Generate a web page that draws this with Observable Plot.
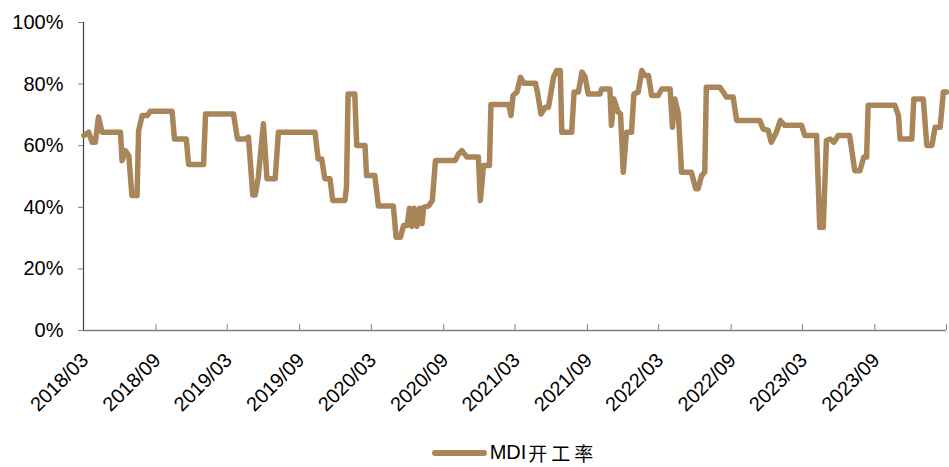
<!DOCTYPE html>
<html>
<head>
<meta charset="utf-8">
<script src="https://cdn.jsdelivr.net/npm/d3@7"></script>
<script src="https://cdn.jsdelivr.net/npm/@observablehq/plot@0.6"></script>
<style>
  html, body { margin: 0; padding: 0; background: #fff; overflow: hidden; }
  #chart svg { display: block; }
  .legend {
    display: flex; align-items: center; justify-content: center;
    height: 27px; line-height: 27px; padding-left: 83px; padding-right: 3px; box-sizing: border-box; width: 949px;
    font-family: "Liberation Sans", Arial, "Noto Sans CJK SC", sans-serif; font-size: 20px; color: #000;
  }
  .legend .swatch { width: 55px; height: 6px; border-radius: 3px; margin-right: 3px; }
  .legend .cjk { font-family: "Noto Sans CJK SC", sans-serif; font-size: 19px; line-height: 27px; letter-spacing: 4px; margin-left: 2px; }
</style>
</head>
<body>
<div id="chart"></div>
<div class="legend"><span class="swatch"></span><span class="label"></span><span class="cjk"></span></div>
<script>
// MDI 开工率 (weekly operating rate, %)
const seriesLatin = "MDI";
const seriesCjk = "开工率";
const dates = [
  "2018-03-02","2018-03-14","2018-03-23","2018-03-31","2018-04-08","2018-04-17","2018-06-03","2018-06-07",
  "2018-06-15","2018-06-24","2018-07-02","2018-07-15","2018-07-19","2018-07-28","2018-08-10","2018-08-18",
  "2018-10-12","2018-10-18","2018-11-17","2018-11-23","2018-12-31","2019-01-05","2019-03-17","2019-03-27",
  "2019-04-16","2019-04-24","2019-05-05","2019-05-11","2019-05-19","2019-06-01","2019-06-10","2019-07-01",
  "2019-07-09","2019-10-10","2019-10-18","2019-10-27","2019-11-04","2019-11-17","2019-11-24","2019-12-25",
  "2019-12-29","2020-01-02","2020-01-19","2020-01-24","2020-02-14","2020-02-18","2020-03-10","2020-03-19",
  "2020-04-26","2020-05-03","2020-05-14","2020-05-22","2020-05-31","2020-06-06","2020-06-12","2020-06-18",
  "2020-06-25","2020-07-02","2020-07-08","2020-07-12","2020-07-25","2020-08-03","2020-08-11","2020-09-30",
  "2020-10-09","2020-10-17","2020-10-30","2020-11-28","2020-12-03","2020-12-11","2020-12-26","2020-12-30",
  "2021-02-13","2021-02-19","2021-02-24","2021-03-06","2021-03-15","2021-03-23","2021-04-22","2021-04-27",
  "2021-05-06","2021-05-17","2021-05-25","2021-06-07","2021-06-15","2021-06-24","2021-06-28","2021-07-23",
  "2021-07-29","2021-08-09","2021-08-18","2021-08-26","2021-09-03","2021-10-03","2021-10-07","2021-10-28",
  "2021-11-01","2021-11-07","2021-11-18","2021-11-24","2021-12-01","2021-12-09","2021-12-22","2021-12-28",
  "2022-01-08","2022-01-17","2022-01-25","2022-02-03","2022-02-11","2022-02-28","2022-03-09","2022-03-30",
  "2022-04-05","2022-04-11","2022-04-20","2022-04-28","2022-05-23","2022-06-03","2022-06-09","2022-06-18",
  "2022-06-26","2022-06-30","2022-08-03","2022-08-12","2022-08-20","2022-09-06","2022-09-15","2022-11-13",
  "2022-11-21","2022-12-04","2022-12-12","2022-12-25","2023-01-04","2023-01-15","2023-02-27","2023-03-07",
  "2023-04-06","2023-04-14","2023-04-23","2023-05-01","2023-05-10","2023-05-20","2023-05-31","2023-06-29",
  "2023-07-12","2023-07-25","2023-08-04","2023-08-11","2023-08-15","2023-10-22","2023-10-31","2023-11-04",
  "2023-12-04","2023-12-09","2024-01-02","2024-01-11","2024-01-24","2024-02-01","2024-02-14","2024-02-22",
  "2024-03-01"
];
const rates = [
  63.3,64.4,61.1,61.1,69.3,64.4,64.4,55.2,
  58.4,56.8,43.8,43.8,64.9,69.8,69.8,71.2,
  71.2,62.2,62.2,53.9,53.9,70.3,70.3,62.2,
  62.2,62.8,44.0,44.0,49.8,67.1,49.3,49.3,
  64.4,64.4,55.7,55.7,49.3,49.3,42.2,42.2,
  46.5,76.8,76.8,60.1,60.1,50.3,50.3,40.4,
  40.4,30.3,30.3,34.1,34.1,39.7,33.8,39.7,
  33.8,39.7,34.7,40.0,40.5,42.2,55.2,55.2,
  57.4,58.4,56.3,56.3,42.2,53.6,53.6,73.4,
  73.4,69.8,76.3,77.4,82.2,80.3,80.3,77.4,
  70.3,72.5,72.5,82.3,84.4,84.4,64.4,64.4,
  77.4,77.4,83.9,82.3,76.8,76.8,78.4,78.4,
  66.6,75.2,70.9,70.3,51.4,64.4,64.4,76.8,
  77.4,84.4,82.8,82.8,76.3,76.3,78.4,78.4,
  66.0,75.2,70.3,51.4,51.4,46.0,46.0,50.3,
  51.4,79.0,79.0,77.4,75.8,75.8,68.2,68.2,
  65.5,65.0,61.1,64.4,68.2,66.6,66.6,63.3,
  63.3,33.5,33.5,61.7,62.2,61.1,63.3,63.3,
  51.9,51.9,56.3,56.3,73.1,73.1,69.8,62.2,
  62.2,75.2,75.2,60.1,60.1,66.0,66.0,77.4,
  77.4
];
// Half-year tick positions; the last one (2024/03) is drawn without a label
const xTickDates = [
  "2018-03-01","2018-09-01","2019-03-01","2019-09-01","2020-03-01","2020-09-01","2021-03-01",
  "2021-09-01","2022-03-01","2022-09-01","2023-03-01","2023-09-01","2024-03-01"
];
const xTickLabels = [
  "2018/03","2018/09","2019/03","2019/09","2020/03","2020/09","2021/03",
  "2021/09","2022/03","2022/09","2023/03","2023/09"
];
const yTicks = [0, 20, 40, 60, 80, 100];

const lineColor = "#A8865A";
const data = dates.map((d, i) => ({date: new Date(d), rate: rates[i]}));
const tickDates = xTickDates.map(d => new Date(d));

const chart = Plot.plot({
  width: 949,
  height: 439,
  marginLeft: 83,
  marginRight: 3,
  marginTop: 22,
  marginBottom: 109,
  style: {fontFamily: "'Liberation Sans', Arial, sans-serif", fontSize: "20px", color: "#000", background: "#fff"},
  x: {type: "utc", domain: [tickDates[0], tickDates[tickDates.length - 1]], axis: null},
  y: {domain: [0, 100]},
  marks: [
    Plot.axisY({ticks: yTicks, tickSize: 5, tickPadding: 15, tickFormat: d => `${d}%`, stroke: "#7f7f7f", fontSize: 20, label: null}),
    // slanted date labels hanging under each half-year tick
    Plot.text(xTickLabels, {
      x: (d, i) => tickDates[i], frameAnchor: "bottom", text: d => d,
      rotate: -45, textAnchor: "end", lineAnchor: "bottom", dx: 6, dy: 31, fontSize: 20, fill: "#000"
    }),
    // inward x ticks
    Plot.ruleX(tickDates, {y1: 0, y2: 0, insetBottom: 6, stroke: "#7f7f7f"}),
    Plot.ruleY([0], {stroke: "#7f7f7f", strokeWidth: 1.5}),
    Plot.ruleX([tickDates[0]], {stroke: "#404040", strokeWidth: 1.2}),
    Plot.line(data, {x: "date", y: "rate", stroke: lineColor, strokeWidth: 5.5, strokeLinejoin: "round", strokeLinecap: "round"})
  ]
});
document.getElementById("chart").append(chart);
document.querySelector(".legend .swatch").style.background = lineColor;
document.querySelector(".legend .label").textContent = seriesLatin;
document.querySelector(".legend .cjk").textContent = seriesCjk;
</script>
</body>
</html>
